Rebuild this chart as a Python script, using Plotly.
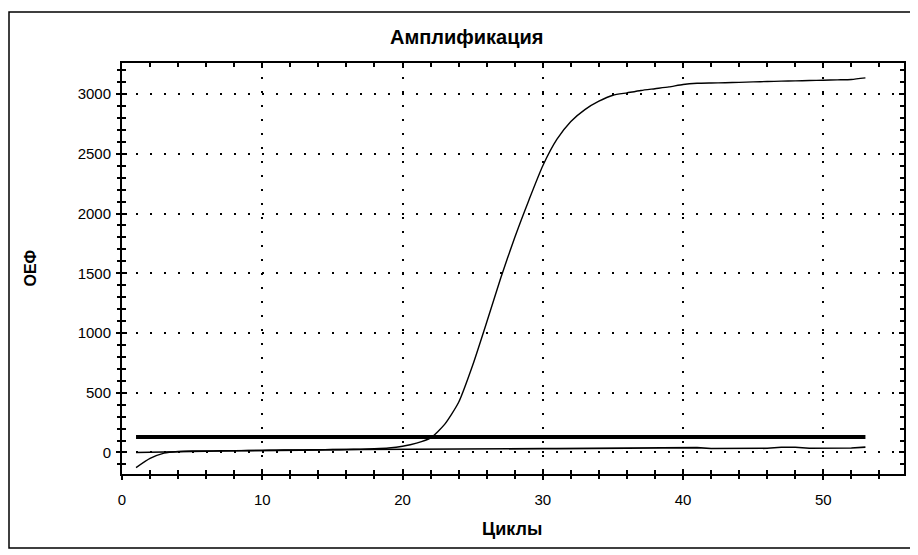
import plotly.graph_objects as go

# ---- data ----
cycles = [1, 2, 3, 4, 5, 6, 7, 8, 9, 10, 11, 12, 13, 14, 15, 16, 17, 18, 19, 20,
          21, 22, 23, 24, 25, 26, 27, 28, 29, 30, 31, 32, 33, 34, 35, 36, 37, 38, 39, 40,
          41, 42, 43, 44, 45, 46, 47, 48, 49, 50, 51, 52, 53]

sample_oef = [-127, -50, -5, 8, 12, 13, 14, 15, 17, 18, 20, 21, 22, 23, 25, 26, 28, 32, 38, 52,
              78, 122, 235, 420, 730, 1090, 1460, 1800, 2110, 2400, 2620, 2770, 2870, 2940, 2990, 3010, 3030, 3045, 3060, 3080,
              3090, 3093, 3095, 3098, 3102, 3105, 3108, 3110, 3113, 3116, 3119, 3122, 3135]

control_oef = [0, 3, 6, 10, 12, 13, 13, 14, 16, 18, 19, 20, 20, 22, 24, 24, 25, 26, 27, 28,
               28, 29, 29, 30, 30, 30, 31, 31, 32, 32, 32, 33, 33, 33, 34, 34, 34, 40, 42, 42,
               41, 33, 33, 34, 34, 35, 44, 44, 36, 36, 37, 37, 45]

threshold_x = [1, 53]
threshold_y = [130, 130]

title_text = "Амплификация"
x_title = "Циклы"
y_title = "ОЕФ"

FONT = "Liberation Sans, Arial, sans-serif"

fig = go.Figure()
fig.add_trace(go.Scatter(x=threshold_x, y=threshold_y, mode="lines",
                         line=dict(color="black", width=4), showlegend=False, hoverinfo="skip"))
fig.add_trace(go.Scatter(x=cycles, y=control_oef, mode="lines",
                         line=dict(color="black", width=1.6), showlegend=False))
fig.add_trace(go.Scatter(x=cycles, y=sample_oef, mode="lines",
                         line=dict(color="black", width=1.4, shape="spline", smoothing=0.6),
                         showlegend=False))
# invisible trace to carry overlay axes (outer tick halves)
fig.add_trace(go.Scatter(x=threshold_x, y=threshold_y, xaxis="x2", yaxis="y2", mode="lines",
                         line=dict(color="rgba(0,0,0,0)", width=0), showlegend=False, hoverinfo="skip"))

grid_dash = "2px,12px"
XR = [0, 55.75]
YR = [-180, 3260]

fig.update_layout(
    width=910, height=547,
    margin=dict(l=114, r=14, t=55, b=81),
    paper_bgcolor="white", plot_bgcolor="white",
    font=dict(family=FONT, size=15, color="black"),
    xaxis=dict(range=XR, dtick=10, tick0=0, showline=True, linecolor="black", linewidth=2,
               mirror="ticks", ticks="inside", ticklen=5, tickwidth=1.5, tickcolor="black",
               minor=dict(dtick=2, ticks="inside", ticklen=4, tickwidth=1.5, tickcolor="black", showgrid=False),
               showgrid=True, gridcolor="black", gridwidth=1.6, griddash=grid_dash,
               zeroline=False, ticklabelstandoff=11, tickfont=dict(size=15)),
    yaxis=dict(range=YR, dtick=500, tick0=0, showline=True, linecolor="black", linewidth=2,
               mirror="ticks", ticks="inside", ticklen=5, tickwidth=1.5, tickcolor="black",
               minor=dict(dtick=100, ticks="inside", ticklen=4, tickwidth=1.5, tickcolor="black", showgrid=False),
               showgrid=True, gridcolor="black", gridwidth=1.6, griddash=grid_dash,
               zeroline=False, ticklabelstandoff=6, tickfont=dict(size=15)),
    xaxis2=dict(overlaying="x", matches="x", anchor="y", side="bottom", range=XR, dtick=10, tick0=0,
                showline=False, showgrid=False, zeroline=False, showticklabels=False,
                ticks="outside", ticklen=5, tickwidth=1.5, tickcolor="black",
                minor=dict(dtick=2, ticks="outside", ticklen=4, tickwidth=1.5, tickcolor="black")),
    yaxis2=dict(overlaying="y", matches="y", anchor="x", side="left", range=YR, dtick=500, tick0=0,
                showline=False, showgrid=False, zeroline=False, showticklabels=False,
                ticks="outside", ticklen=5, tickwidth=1.5, tickcolor="black",
                minor=dict(dtick=100, ticks="outside", ticklen=4, tickwidth=1.5, tickcolor="black")),
    showlegend=False,
)

# outer frame
fig.add_shape(type="rect", xref="paper", yref="paper",
              x0=-0.1445, x1=1.0102, y0=-0.1800, y1=1.1241,
              line=dict(color="black", width=1.5), fillcolor="rgba(0,0,0,0)", layer="above")

fig.add_annotation(text="<b>" + title_text + "</b>", xref="paper", yref="paper",
                   x=0.441, y=1.0633, xanchor="center", yanchor="middle", showarrow=False,
                   font=dict(family=FONT, size=20, color="black"))
fig.add_annotation(text="<b>" + x_title + "</b>", xref="paper", yref="paper",
                   x=0.4987, y=-0.1338, xanchor="center", yanchor="middle", showarrow=False,
                   font=dict(family=FONT, size=18, color="black"))
fig.add_annotation(text="<b>" + y_title + "</b>", xref="paper", yref="paper",
                   x=-0.1176, y=0.5, xanchor="center", yanchor="middle", showarrow=False,
                   textangle=-90, font=dict(family=FONT, size=16, color="black"))

fig.write_html("out.html")
